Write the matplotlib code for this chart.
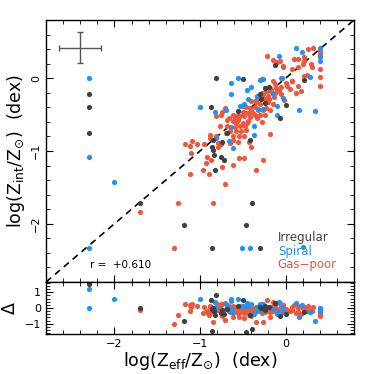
import numpy as np
import matplotlib
matplotlib.use('Agg')
import matplotlib.pyplot as plt
from matplotlib.ticker import MultipleLocator

plt.rcParams['font.family'] = ['DejaVu Sans']
plt.rcParams['mathtext.default'] = 'regular'

# log(Z_eff/Zsun), log(Z_int/Zsun) per class
red_x = [-0.22, -0.15, -0.07, -0.03, 0.08, 0.10, 0.14, 0.21, 0.22, 0.26, 0.32, 0.40, 0.40, 0.40,
         0.40, 0.40, 0.40, 0.20, 0.31, -0.10, -0.03, 0.08, 0.22, 0.12, 0.18,
         -0.15, -0.12, -0.18, -0.11, -0.23, -0.17, -0.26, -0.21, -0.30, -0.24, -0.19, -0.13, -0.08,
         -0.05, 0.00, 0.07,
         -0.50, -0.46, -0.41, -0.36, -0.32, -0.26, -0.23, -0.18, -0.38, -0.44, -0.50, -0.55, -0.61,
         -0.66, -0.59, -0.54, -0.48, -0.42, -0.36, -0.30, -0.24, -0.69, -0.61, -0.55, -0.50, -0.44,
         -0.53, -0.47, -0.59, -0.65, -0.58, -0.52, -0.46, -0.54, -0.48, -0.61, -0.55, -0.40, -0.43,
         -0.18, -0.77, -0.81, -0.75, -0.74, -0.71,
         -1.18, -1.12, -1.09, -1.03, -0.95, -1.10, -0.88, -0.88, -0.81, -0.79, -0.79, -0.76, -0.93,
         -0.92, -0.87, -0.97, -1.12, -0.89, -0.74, -0.61, -0.54, -0.48, -0.35, -0.26, -0.71, -0.65,
         -1.26, -1.70, -0.85, -1.30,
         -0.05, 0.02, 0.15, -0.35, -0.40,
         -0.35, -0.30, -0.28, -0.20, -0.15, -0.12, -0.05, -0.02, 0.05, 0.25, 0.30, 0.15, -0.40,
         -0.33, -0.28, -0.45, -0.58, -0.68, -0.62, -0.70]
red_y = [0.31, 0.25, 0.24, 0.16, 0.12, 0.27, 0.27, 0.23, 0.29, 0.40, 0.41, 0.38, 0.33, 0.29,
         0.12, 0.02, -0.10, 0.19, 0.15, 0.22, 0.17, -0.04, 0.03, -0.20, -0.18,
         -0.04, -0.08, -0.13, -0.13, -0.18, -0.18, -0.22, -0.24, -0.26, -0.29, -0.28, -0.26, -0.18,
         -0.12, -0.06, -0.04,
         -0.38, -0.39, -0.41, -0.39, -0.44, -0.43, -0.41, -0.43, -0.48, -0.48, -0.47, -0.50, -0.50,
         -0.55, -0.55, -0.53, -0.52, -0.53, -0.51, -0.50, -0.50, -0.58, -0.59, -0.58, -0.61, -0.59,
         -0.66, -0.66, -0.67, -0.73, -0.73, -0.73, -0.71, -0.80, -0.80, -0.80, -0.87, -0.94, -0.88,
         -0.77, -0.65, -0.52, -0.51, -0.47, -0.41,
         -0.90, -0.93, -0.86, -0.90, -0.90, -1.03, -0.78, -0.82, -0.80, -0.89, -0.94, -0.90, -1.17,
         -1.08, -1.13, -1.26, -1.31, -1.31, -1.22, -1.19, -1.10, -1.09, -1.26, -1.13, -1.46, -0.89,
         -1.72, -1.84, -1.72, -2.33,
         0.00, -0.10, -0.10, -0.33, -0.31,
         -0.30, -0.35, -0.20, -0.33, -0.35, -0.20, -0.22, -0.30, -0.15, 0.05, 0.20, 0.15, -0.45,
         -0.55, -0.60, -0.62, -0.62, -0.65, -0.85, -0.75]

blue_x = [-2.30, -2.30, -2.00, -2.30, 0.12, 0.19, -0.08, 0.40, 0.40, 0.40, -0.56, -0.64, -0.64,
          -1.00, -0.82, -0.45, -0.40, -0.30, -0.28, -0.26, -0.04, 0.29, -0.53, -0.44, -0.32, -0.15,
          -0.03, -0.10, -0.10, 0.16, 0.35, -0.64, -0.37, -0.37, -0.62, -0.81, -0.66, -0.70, -0.49,
          -0.33, -0.26, 0.20, -0.51, -0.42]
blue_y = [0.00, -1.08, -1.42, -2.33, 0.42, 0.36, 0.31, 0.42, 0.30, 0.24, 0.01, -0.06, -0.21,
          -0.40, -0.47, -0.16, -0.12, -0.03, -0.01, -0.01, 0.01, 0.02, -0.38, -0.29, -0.42, -0.22,
          -0.27, -0.38, -0.51, -0.44, -0.45, -0.67, -0.66, -0.78, -0.96, -0.82, -0.86, -0.43, -0.35,
          -0.25, -0.42, -2.32, -2.33, -2.33]

gray_x = [-2.30, -2.30, -2.30, -0.81, -0.50, -0.87, -0.56, -0.24, -0.19, -0.12, 0.22, 0.00, -0.06,
          -0.29, -0.68, -0.85, -0.86, -0.85, -0.74, -0.84, -0.75, -0.72, -0.83, -0.41, -0.30, -0.24,
          -1.70, -1.19, -0.86, -0.46, -0.39, -0.30]
gray_y = [-0.22, -0.39, -0.75, 0.01, -0.01, -0.39, -0.45, -0.13, -0.12, 0.18, -0.02, -0.37, -0.55,
          -0.29, -0.75, -0.85, -0.94, -0.98, -0.87, -1.05, -1.08, -1.13, -1.26, -0.85, -0.21, -0.34,
          -1.72, -2.01, -2.33, -2.01, -1.72, -2.33]

labels = ['Irregular', 'Spiral', 'Gas\u2212poor']
r_text = 'r =  +0.610'

RED = '#EE573C'
BLUE = '#2192F5'
GRAY = '#404040'

fig = plt.figure(figsize=(3.74, 3.74), dpi=100)
ax = fig.add_axes([0.123, 0.246, 0.8235, 0.7005])
axr = fig.add_axes([0.123, 0.107, 0.8235, 0.139], sharex=ax)

lim = (-2.8, 0.8)
ax.plot(lim, lim, ls=(0, (4, 3)), color='black', lw=1.2, zorder=1)

groups = [(red_x, red_y, RED), (blue_x, blue_y, BLUE), (gray_x, gray_y, GRAY)]
for xs, ys, c in groups:
    xs = np.array(xs)
    ys = np.array(ys)
    ax.scatter(xs, ys, s=14, color=c, lw=0, zorder=2)
    # residual panel: Delta = log(Z_int) - log(Z_eff)
    axr.scatter(xs, ys - xs, s=14, color=c, lw=0, zorder=2)

# typical error bar
ax.errorbar([-2.40], [0.42], xerr=[0.245], yerr=[0.21], color='#555555', lw=1.0,
            capsize=2.5, capthick=1.0, fmt='none')

ax.text(-2.28, -2.56, r_text, fontsize=7.5, va='center', ha='left')
for i, (lab, c) in enumerate(zip(labels, [GRAY, BLUE, RED])):
    ax.text(-0.09, -2.19 - 0.185 * i, lab, color=c, fontsize=8.5, va='center', ha='left')

ax.set_xlim(*lim)
ax.set_ylim(*lim)
axr.set_ylim(-1.65, 1.65)

for a in (ax, axr):
    a.xaxis.set_major_locator(MultipleLocator(1))
    a.xaxis.set_minor_locator(MultipleLocator(0.2))
    a.tick_params(which='both', direction='in', top=True, right=True, labelsize=8)
    a.tick_params(which='major', length=5, width=0.8)
    a.tick_params(which='minor', length=2.8, width=0.6)
    for sp in a.spines.values():
        sp.set_linewidth(1.0)

ax.yaxis.set_major_locator(MultipleLocator(1))
ax.yaxis.set_minor_locator(MultipleLocator(0.2))
axr.yaxis.set_major_locator(MultipleLocator(1))
axr.yaxis.set_minor_locator(MultipleLocator(0.2))
plt.setp(ax.get_xticklabels(), visible=False)
plt.setp(ax.get_yticklabels(), rotation=90, va='center')

ax.set_ylabel(r'log(Z$_{\rm int}$/Z$_{\odot}$)  (dex)', fontsize=12.5, labelpad=3)
axr.set_xlabel(r'log(Z$_{\rm eff}$/Z$_{\odot}$)  (dex)', fontsize=12.5, labelpad=1)
axr.set_ylabel('\u0394', fontsize=12.5, labelpad=4)

fig.savefig('out.png', dpi=100)
